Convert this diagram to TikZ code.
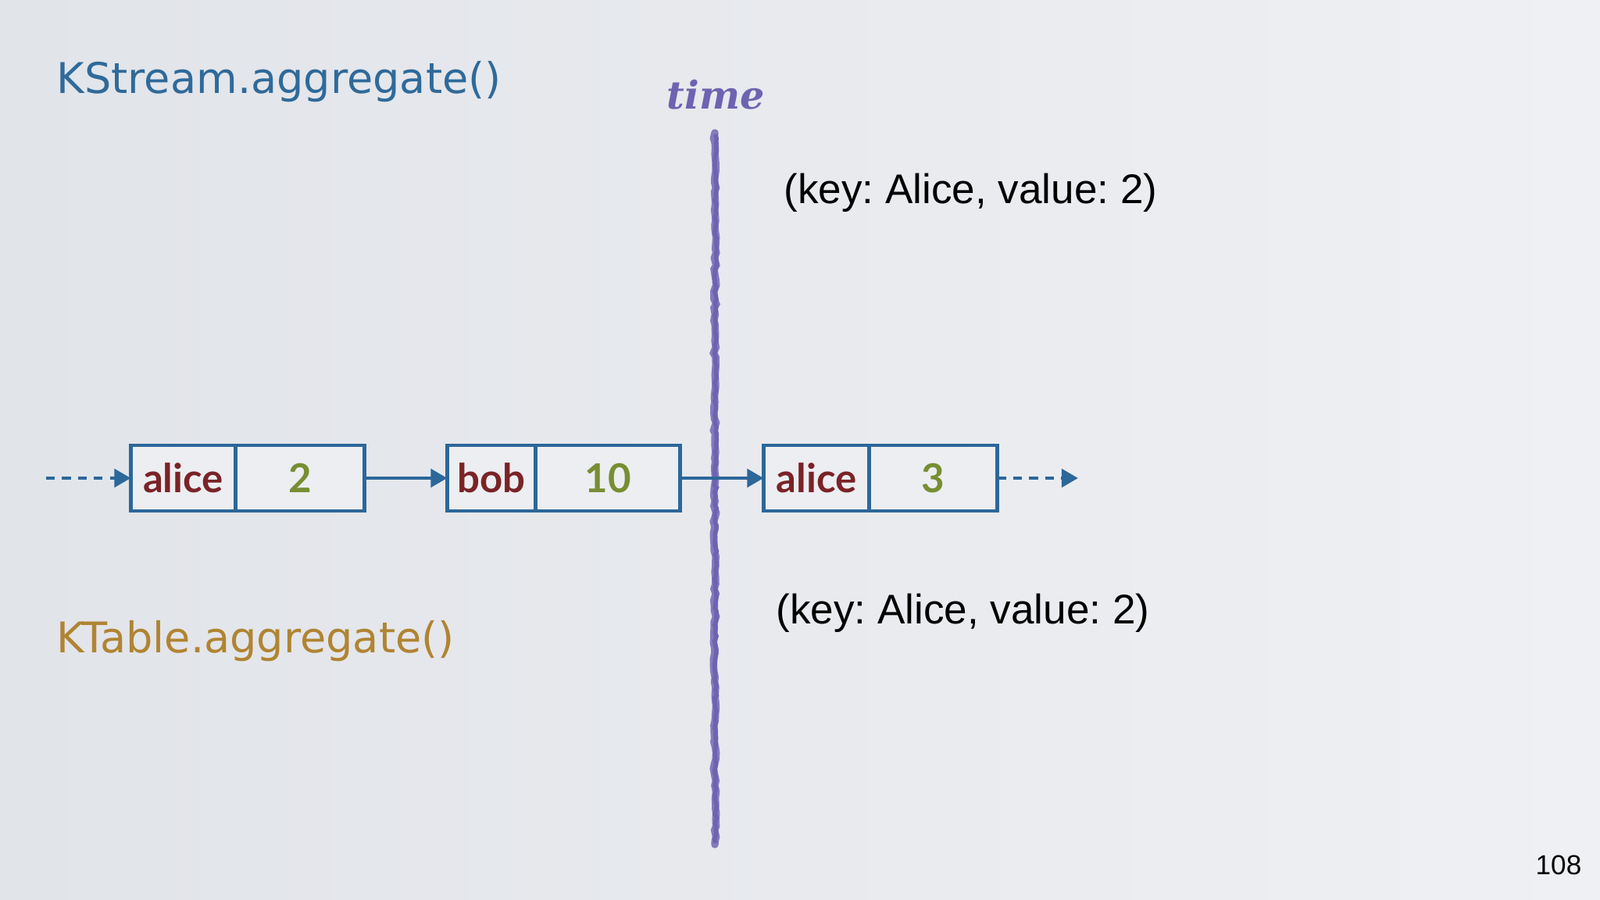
\documentclass[tikz,border=0pt]{standalone}
\usepackage{fontspec}
\setmainfont{Liberation Sans}
\newfontfamily\titlefont{DejaVu Sans}
\newfontfamily\cellfont{Lato}
\newfontfamily\timefont{DejaVu Serif}
\usepackage{xcolor}
\usetikzlibrary{arrows.meta,decorations.pathmorphing}
\definecolor{streamblue}{HTML}{2F6A9A}
\definecolor{tablegold}{HTML}{B08432}
\definecolor{boxblue}{HTML}{2C679A}
\definecolor{keyred}{HTML}{7A2327}
\definecolor{valgreen}{HTML}{778E33}
\definecolor{timepurple}{HTML}{6E63B1}
\definecolor{bgleft}{HTML}{E1E4E9}
\definecolor{bgright}{HTML}{EFF0F3}
\definecolor{cellfill}{HTML}{ECEEF1}
\frenchspacing
\tikzset{
  cell/.style={draw=boxblue,line width=1.4pt,fill=cellfill,minimum height=0.84cm,
    inner sep=0pt,outer sep=0pt,font=\cellfont\bfseries\fontsize{14.5}{16}\selectfont},
  keycell/.style={cell,text=keyred},
  valcell/.style={cell,text=valgreen,anchor=west},
  link/.style={-{Triangle[length=6pt,width=6.5pt]},draw=boxblue,line width=1.4pt},
  fadelink/.style={link,dash pattern=on 3.2pt off 2.6pt},
  pair/.style={font=\fontsize{15.1}{18}\selectfont,anchor=west,inner sep=0pt},
}

\begin{document}
\begin{tikzpicture}
  \useasboundingbox (0,0) rectangle (20.48,11.52);
  \shade[left color=bgleft,right color=bgright] (0,0) rectangle (20.48,11.52);
  % headings
  \node[streamblue,anchor=west,inner sep=0pt,font=\titlefont\fontsize{15.4}{18}\selectfont]
    (kstream) at (0.72,10.47) {KStream.aggregate()};
  \node[tablegold,anchor=west,inner sep=0pt,font=\titlefont\fontsize{15.4}{18}\selectfont]
    (ktable) at (0.72,3.31) {KTable.aggregate()};
  % time axis
  \node[timepurple,font=\timefont\bfseries\itshape\fontsize{14}{16}\selectfont]
    (time) at (9.16,10.31) {time};
  \draw[timepurple!85,line width=2.7pt,line cap=round,
    decorate,decoration={random steps,segment length=2pt,amplitude=0.5pt}]
    (9.15,9.82) -- (9.15,0.71);
  \draw[timepurple,line width=1.6pt,decorate,
    decoration={random steps,segment length=1.5pt,amplitude=0.4pt}]
    (9.16,9.80) -- (9.16,0.73);
  % records
  \node[keycell,minimum width=1.34cm] (k1) at (2.345,5.40) {alice};
  \node[valcell,minimum width=1.65cm] (v1) at (k1.east) {2};
  \node[keycell,minimum width=1.13cm] (k2) at (6.29,5.40) {bob};
  \node[valcell,minimum width=1.85cm] (v2) at (k2.east) {10};
  \node[keycell,minimum width=1.35cm] (k3) at (10.45,5.40) {alice};
  \node[valcell,minimum width=1.64cm] (v3) at (k3.east) {3};
  \coordinate (in) at (0.59,5.40);
  \coordinate (out) at (13.80,5.40);
  \draw[fadelink] (in) -- (k1);
  \draw[link] (v1) -- (k2);
  \draw[link] (v2) -- (k3);
  \draw[fadelink] (v3) -- (out);
  % results
  \node[pair] (res1) at (10.03,9.05) {(key: Alice, value: 2)};
  \node[pair] (res2) at (9.93,3.67) {(key: Alice, value: 2)};
  \node[font=\fontsize{10}{12}\selectfont] (page) at (19.95,0.45) {108};
\end{tikzpicture}
\end{document}
